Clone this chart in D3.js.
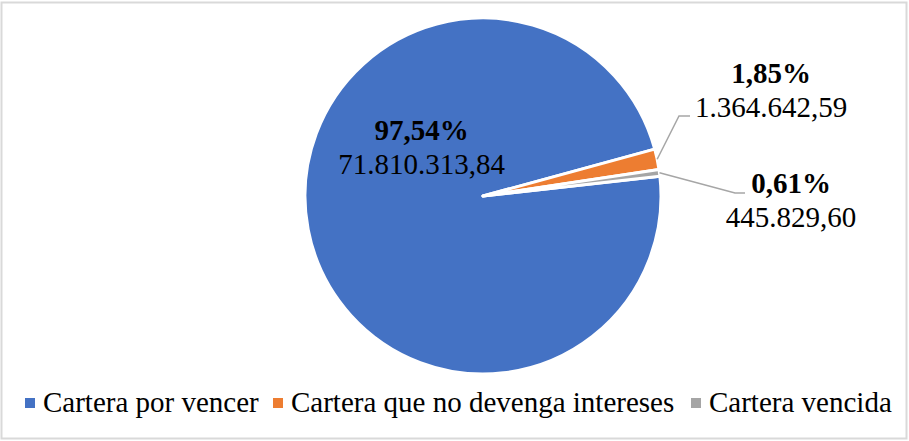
<!DOCTYPE html>
<html>
<head>
<meta charset="utf-8">
<script src="https://cdn.jsdelivr.net/npm/d3@7"></script>
<style>
  body { margin: 0; background: #fff; }
  text { font-family: "Liberation Serif", "Times New Roman", serif; }
</style>
</head>
<body>
<svg id="chart"></svg>
<script>
  var categories = ["Cartera por vencer", "Cartera que no devenga intereses", "Cartera vencida"];
  var values = [71810313.84, 1364642.59, 445829.60];
  var colors = ["#4472C4", "#ED7D31", "#A5A5A5"];

  var width = 909, height = 441;
  var cx = 483, cy = 196, radius = 178;
  var fontSize = "29px";
  var firstSliceAngle = 83.6; // degrees, clockwise from 12 o'clock

  // label placement offsets from the pie centre (layout, not data)
  var labelPos = [
    {x: -61.5, y: -56, line: null},
    {x: 288, y: -113, line: {elbow: [196, -80], end: [207, -80]}},
    {x: 308, y: -3, line: {elbow: [252, -3], end: [262, -3]}}
  ];

  var es = d3.formatLocale({decimal: ",", thousands: ".", grouping: [3], currency: ["", ""]});
  var fmtValue = es.format(",.2f");
  var fmtPct = es.format(".2%");

  var svg = d3.select("#chart").attr("width", width).attr("height", height);

  svg.append("rect").attr("x", 1.5).attr("y", 2.5).attr("width", width - 4).attr("height", height - 5)
    .attr("fill", "#fff").attr("stroke", "#d9d9d9").attr("stroke-width", 2);

  var total = d3.sum(values);
  var start = firstSliceAngle * Math.PI / 180;
  var pie = d3.pie().sort(null).startAngle(start).endAngle(start + 2 * Math.PI);
  var arcs = pie(values);
  var arc = d3.arc().innerRadius(0).outerRadius(radius);

  var g = svg.append("g").attr("transform", "translate(" + cx + "," + cy + ")");

  g.selectAll("path.slice").data(arcs).enter().append("path")
    .attr("class", "slice")
    .attr("d", arc)
    .attr("fill", function(d, i) { return colors[i]; })
    .attr("stroke", "#fff")
    .attr("stroke-width", 3)
    .attr("stroke-linejoin", "round");

  // leader lines
  arcs.forEach(function(d, i) {
    var lp = labelPos[i];
    if (!lp.line) return;
    var mid = (d.startAngle + d.endAngle) / 2;
    var p0 = [Math.sin(mid) * radius, -Math.cos(mid) * radius];
    g.append("polyline")
      .attr("points", [p0, lp.line.elbow, lp.line.end].map(function(p) { return p.join(","); }).join(" "))
      .attr("fill", "none").attr("stroke", "#a6a6a6").attr("stroke-width", 1.5);
  });

  // data labels
  arcs.forEach(function(d, i) {
    var lp = labelPos[i];
    var t = g.append("text").attr("x", lp.x).attr("y", lp.y).attr("text-anchor", "middle")
      .style("font-size", fontSize).attr("fill", "#000");
    t.append("tspan").attr("x", lp.x).attr("font-weight", "bold").text(fmtPct(values[i] / total));
    t.append("tspan").attr("x", lp.x).attr("dy", 34).text(fmtValue(values[i]));
  });

  // legend
  var legendX = [25, 273, 691];
  var legendY = 412;
  categories.forEach(function(c, i) {
    svg.append("rect").attr("x", legendX[i]).attr("y", legendY - 14).attr("width", 10).attr("height", 10)
      .attr("fill", colors[i]);
    svg.append("text").attr("x", legendX[i] + 18).attr("y", legendY).style("font-size", fontSize)
      .attr("fill", "#000").text(c);
  });
</script>
</body>
</html>
